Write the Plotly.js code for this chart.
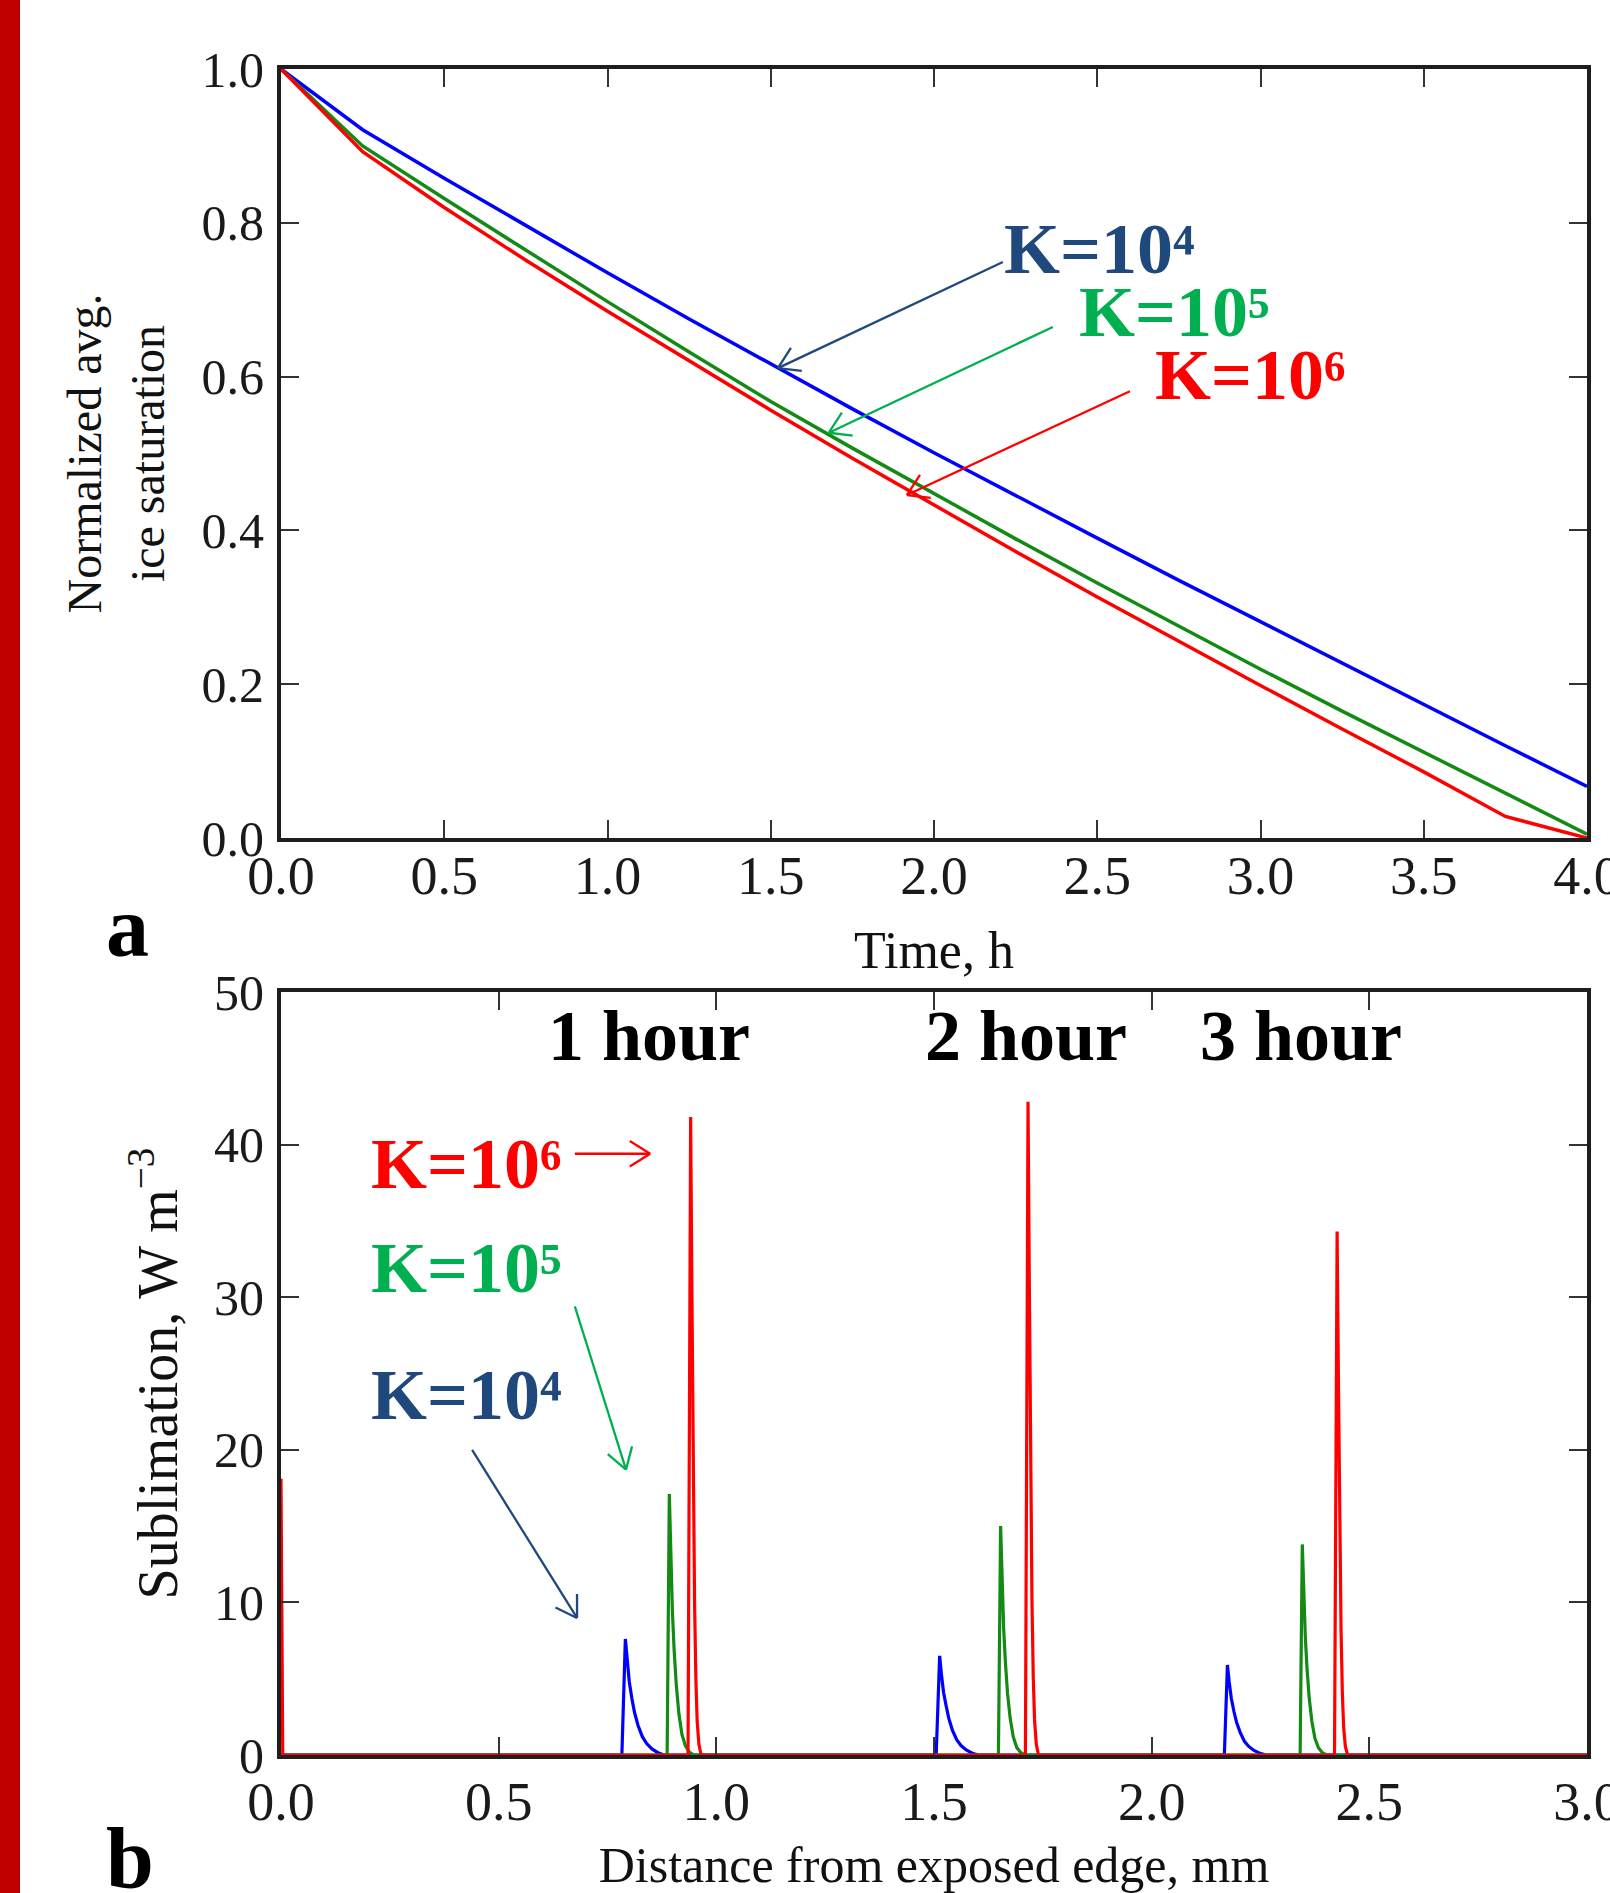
<!DOCTYPE html>
<html>
<head>
<meta charset="utf-8">
<script src="https://cdn.plot.ly/plotly-3.0.1.min.js"></script>
<style>
  html, body { margin: 0; padding: 0; background: #ffffff; }
  #chart { width: 1610px; height: 1893px; }
</style>
</head>
<body>
<div id="chart"></div>
<script>
// ---------------- DATA ----------------
// Panel a: normalized average ice saturation vs time (h)
const timeH = [0, 0.25, 0.5, 0.75, 1.0, 1.25, 1.5, 1.75, 2.0, 2.25, 2.5, 2.75, 3.0, 3.25, 3.5, 3.75, 4.0];
const satK4 = [1.0, 0.921, 0.858, 0.796, 0.735, 0.675, 0.616, 0.558, 0.501, 0.445, 0.390, 0.335, 0.281, 0.227, 0.173, 0.120, 0.067];
const satK5 = [1.0, 0.900, 0.8315, 0.764, 0.6975, 0.632, 0.5675, 0.507, 0.4475, 0.389, 0.3315, 0.275, 0.2195, 0.165, 0.1115, 0.0588, 0.005];
const satK6 = [1.0, 0.8925, 0.820, 0.7513, 0.685, 0.620, 0.5563, 0.4938, 0.4325, 0.3725, 0.3135, 0.2555, 0.1983, 0.1418, 0.086, 0.028, 0.0];

// Panel b: sublimation rate (W m^-3) vs distance from exposed edge (mm)
const distK4 = [0, 0.783, 0.791, 0.795, 0.800, 0.806, 0.812, 0.820, 0.830, 0.840, 0.852, 0.866, 0.880,
                1.505, 1.513, 1.517, 1.522, 1.528, 1.534, 1.542, 1.552, 1.562, 1.574, 1.588, 1.602,
                2.167, 2.174, 2.178, 2.183, 2.189, 2.195, 2.203, 2.213, 2.223, 2.235, 2.249, 2.263, 3.0];
const sublK4 = [0, 0, 7.6, 6.2, 4.8, 3.7, 2.8, 1.95, 1.2, 0.75, 0.4, 0.15, 0,
                0, 6.5, 5.3, 4.1, 3.2, 2.4, 1.65, 1.0, 0.62, 0.33, 0.12, 0,
                0, 5.9, 4.8, 3.7, 2.85, 2.15, 1.5, 0.9, 0.56, 0.3, 0.11, 0, 0];
const distK5 = [0, 0.887, 0.892, 0.895, 0.899, 0.903, 0.908, 0.914, 0.921, 0.929, 0.938, 0.948,
                1.648, 1.653, 1.656, 1.660, 1.664, 1.669, 1.675, 1.682, 1.690, 1.699, 1.709,
                2.341, 2.346, 2.349, 2.353, 2.357, 2.362, 2.368, 2.375, 2.383, 2.392, 2.402, 3.0];
const sublK5 = [0, 0, 17.1, 13.0, 9.5, 6.9, 4.6, 2.7, 1.35, 0.6, 0.2, 0,
                0, 15.0, 11.4, 8.3, 6.1, 4.0, 2.4, 1.2, 0.5, 0.17, 0,
                0, 13.8, 10.5, 7.7, 5.6, 3.7, 2.2, 1.1, 0.48, 0.15, 0, 0];
const distK6 = [0, 0.004, 0.935, 0.941, 0.944, 0.947, 0.950, 0.953, 0.956, 0.960, 0.965,
                1.710, 1.716, 1.719, 1.722, 1.725, 1.728, 1.731, 1.735, 1.740,
                2.420, 2.426, 2.429, 2.432, 2.435, 2.438, 2.441, 2.445, 2.450, 3.0];
const sublK6 = [18.1, 0, 0, 41.8, 30, 18, 10, 5, 2.2, 0.7, 0,
                0, 42.8, 30.7, 18.4, 10.2, 5.1, 2.3, 0.7, 0,
                0, 34.3, 24.6, 14.8, 8.2, 4.1, 1.8, 0.55, 0, 0];

// Label texts
const kLabels = ['K=10\u2074', 'K=10\u2075', 'K=10\u2076'];
const hourLabels = ['1 hour', '2 hour', '3 hour'];

// ---------------- STYLE / LAYOUT CONSTANTS ----------------
const W = 1610, H = 1893;
const L = 281, R = 1587, T = 69, B = 1755;
const TOP_BOTTOM = 838, BOT_TOP = 992;
const PH = B - T;
const lineCol = { k4: '#0000FF', k5: '#138A13', k6: '#FF0000' };
const labCol = { k4: '#1F497D', k5: '#00B050', k6: '#FF0000' };
const serif = '"Liberation Serif", "Times New Roman", serif';

function axisStyle(extra) {
  return Object.assign({
    showgrid: false, zeroline: false,
    showline: true, linecolor: '#1e1e1e', linewidth: 4, mirror: 'allticks',
    ticks: 'inside', ticklen: 18, tickwidth: 2.2, tickcolor: '#333',
    tickfont: { family: serif, size: 50, color: '#1a1a1a' },
    ticklabeloverflow: 'allow',
    fixedrange: true
  }, extra);
}

const traces = [
  { x: timeH, y: satK4, xaxis: 'x', yaxis: 'y', mode: 'lines', line: { color: lineCol.k4, width: 3.5 }, name: 'K=1e4' },
  { x: timeH, y: satK5, xaxis: 'x', yaxis: 'y', mode: 'lines', line: { color: lineCol.k5, width: 3.5 }, name: 'K=1e5' },
  { x: timeH, y: satK6, xaxis: 'x', yaxis: 'y', mode: 'lines', line: { color: lineCol.k6, width: 3.5 }, name: 'K=1e6' },
  { x: distK4, y: sublK4, xaxis: 'x2', yaxis: 'y2', mode: 'lines', line: { color: lineCol.k4, width: 3.2 }, name: 'K=1e4' },
  { x: distK5, y: sublK5, xaxis: 'x2', yaxis: 'y2', mode: 'lines', line: { color: lineCol.k5, width: 3.2 }, name: 'K=1e5' },
  { x: distK6, y: sublK6, xaxis: 'x2', yaxis: 'y2', mode: 'lines', line: { color: lineCol.k6, width: 3.2 }, name: 'K=1e6' }
];

const labelFont = (c) => ({ family: serif, size: 72, color: c, weight: 'bold' });

// text annotation positions (data coordinates)
const topLabelPos = [[2.208, 0.766], [2.438, 0.684], [2.671, 0.602]];
const botLabelPos = [[0.202, 23.6], [0.202, 31.9], [0.202, 38.7]];
const hourPos = [[0.609, 47.1], [1.475, 47.1], [2.106, 47.1]];
// arrows: [tailX, tailY, tipX, tipY] in data coordinates
const topArrows = [[2.211, 0.749, 1.522, 0.611], [2.364, 0.6645, 1.678, 0.527], [2.600, 0.581, 1.917, 0.446]];
const botArrows = [[0.439, 20.0, 0.680, 8.98], [0.675, 29.4, 0.7925, 18.7], [0.675, 39.4, 0.848, 39.4]];
const cols = ['k4', 'k5', 'k6'];

// pixel helpers (for arrows and panel letters)
const px2paperX = (p) => (p - L) / (R - L);
const px2paperY = (p) => (B - p) / PH;
const topPx = (t, v) => [L + t / 4 * (R - L), TOP_BOTTOM - v * (TOP_BOTTOM - T)];
const botPx = (d, s) => [L + d / 3 * (R - L), B - s / 50 * (B - BOT_TOP)];

const shapes = [];
function arrowShapes(tail, tip, color) {
  const lineSpec = { color: color, width: 2.3 };
  shapes.push({ type: 'line', xref: 'paper', yref: 'paper', layer: 'above',
    x0: px2paperX(tail[0]), y0: px2paperY(tail[1]), x1: px2paperX(tip[0]), y1: px2paperY(tip[1]), line: lineSpec });
  const dx = tail[0] - tip[0], dy = tail[1] - tip[1];
  const len = Math.hypot(dx, dy);
  const ux = dx / len, uy = dy / len;
  const headLen = 24, ang = 32 * Math.PI / 180;
  [ang, -ang].forEach((a) => {
    const hx = tip[0] + headLen * (ux * Math.cos(a) - uy * Math.sin(a));
    const hy = tip[1] + headLen * (ux * Math.sin(a) + uy * Math.cos(a));
    shapes.push({ type: 'line', xref: 'paper', yref: 'paper', layer: 'above',
      x0: px2paperX(tip[0]), y0: px2paperY(tip[1]), x1: px2paperX(hx), y1: px2paperY(hy), line: lineSpec });
  });
}

const annotations = [];
cols.forEach((c, i) => {
  annotations.push({ xref: 'x', yref: 'y', x: topLabelPos[i][0], y: topLabelPos[i][1], text: '<b>' + kLabels[i] + '</b>',
    showarrow: false, xanchor: 'left', yanchor: 'middle', font: labelFont(labCol[c]) });
  annotations.push({ xref: 'x2', yref: 'y2', x: botLabelPos[i][0], y: botLabelPos[i][1], text: '<b>' + kLabels[i] + '</b>',
    showarrow: false, xanchor: 'left', yanchor: 'middle', font: labelFont(labCol[c]) });
  annotations.push({ xref: 'x2', yref: 'y2', x: hourPos[i][0], y: hourPos[i][1], text: '<b>' + hourLabels[i] + '</b>',
    showarrow: false, xanchor: 'left', yanchor: 'middle', font: labelFont('#000000') });
  arrowShapes(topPx(topArrows[i][0], topArrows[i][1]), topPx(topArrows[i][2], topArrows[i][3]), labCol[c]);
  arrowShapes(botPx(botArrows[i][0], botArrows[i][1]), botPx(botArrows[i][2], botArrows[i][3]), labCol[c]);
});
// panel letters
annotations.push({ xref: 'paper', yref: 'paper', x: px2paperX(104), y: px2paperY(927), text: '<b>a</b>',
  showarrow: false, xanchor: 'left', yanchor: 'middle', font: { family: serif, size: 86, color: '#000', weight: 'bold' } });
annotations.push({ xref: 'paper', yref: 'paper', x: px2paperX(104), y: px2paperY(1858), text: '<b>b</b>',
  showarrow: false, xanchor: 'left', yanchor: 'middle', font: { family: serif, size: 86, color: '#000', weight: 'bold' } });

// red side band
shapes.push({
  type: 'rect', xref: 'paper', yref: 'paper', layer: 'above',
  x0: px2paperX(0), x1: px2paperX(20), y0: px2paperY(H), y1: px2paperY(0),
  fillcolor: '#C00000', line: { width: 0 }
});

const layout = {
  width: W, height: H,
  margin: { l: L, r: W - R, t: T, b: H - B, pad: 0 },
  paper_bgcolor: '#ffffff', plot_bgcolor: '#ffffff',
  showlegend: false,
  xaxis: axisStyle({ domain: [0, 1], anchor: 'y', range: [0, 4], dtick: 0.5, tick0: 0, tickformat: '.1f',
    ticklabelstandoff: -13, tickfont: { family: serif, size: 54, color: '#1a1a1a' },
    title: { text: 'Time, h', font: { family: serif, size: 52, color: '#111' }, standoff: 28 } }),
  yaxis: axisStyle({ domain: [(B - TOP_BOTTOM) / PH, 1], anchor: 'x', range: [0, 1], dtick: 0.2, tick0: 0, tickformat: '.1f',
    ticklabelstandoff: 3,
    title: { text: 'Normalized avg.<br>ice saturation', font: { family: serif, size: 48, color: '#111' }, standoff: 23 } }),
  xaxis2: axisStyle({ domain: [0, 1], anchor: 'y2', range: [0, 3], dtick: 0.5, tick0: 0, tickformat: '.1f',
    ticklabelstandoff: -4, tickfont: { family: serif, size: 54, color: '#1a1a1a' },
    title: { text: 'Distance from exposed edge, mm', font: { family: serif, size: 50, color: '#111' }, standoff: 29 } }),
  yaxis2: axisStyle({ domain: [0, (B - BOT_TOP) / PH], anchor: 'x2', range: [0, 50], dtick: 10, tick0: 0,
    ticklabelstandoff: 3,
    title: { text: 'Sublimation, W m<sup>\u22123</sup>', font: { family: serif, size: 56, color: '#111' }, standoff: 19 } }),
  annotations: annotations,
  shapes: shapes
};

Plotly.newPlot('chart', traces, layout, { displayModeBar: false, responsive: false });
</script>
</body>
</html>
